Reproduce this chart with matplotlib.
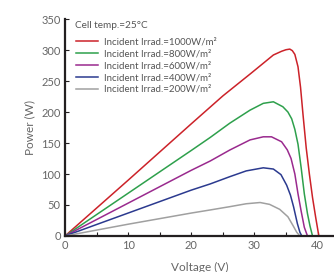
import matplotlib
matplotlib.use("Agg")
import matplotlib.pyplot as plt

plt.rcParams['font.family'] = ['Lato', 'DejaVu Sans']

# values (voltage V, power W)
v_1000 = [0, 10, 20, 25, 29.4, 31.2, 33.0, 34.3, 35.0, 35.6, 36.0, 36.4, 36.9, 37.3, 37.7, 38.2, 38.7, 39.2, 39.7, 40.2]
p_1000 = [0, 90, 181, 226, 262, 277, 292, 298, 300.5, 301.5, 299, 293, 273, 240, 195, 142, 100, 62, 30, 0]

v_800 = [0, 10, 20, 23, 26.1, 29.3, 31.4, 33.0, 34.5, 35.3, 35.9, 36.4, 36.9, 37.4, 37.9, 38.4, 38.8, 39.2]
p_800 = [0, 69, 138, 159, 182, 203, 214, 216.5, 208.5, 200, 189, 172, 148, 110, 68, 36, 16, 0]

v_600 = [0, 10, 20, 23, 26.1, 29.3, 31.4, 32.7, 34.3, 35.2, 35.8, 36.4, 36.9, 37.4, 37.9, 38.4]
p_600 = [0, 53, 106, 121, 138.7, 155, 160, 160, 152, 139, 125, 100, 68, 40, 14, 0]

v_400 = [0, 10, 20, 23, 26.1, 28.7, 31.4, 33.0, 34.2, 35.1, 35.7, 36.2, 36.8, 37.2, 37.5]
p_400 = [0, 37, 74, 84, 95.7, 105, 110, 108, 99, 82, 66, 47, 20, 6, 0]

v_200 = [0, 10, 20, 23, 26.1, 28.7, 30.9, 32.4, 34.0, 35.3, 36.1, 36.7, 37.2]
p_200 = [0, 19, 37, 42, 47.3, 52, 54, 51, 43, 31, 17, 6, 0]

labels = ["Incident Irrad.=1000W/m²", "Incident Irrad.=800W/m²", "Incident Irrad.=600W/m²",
          "Incident Irrad.=400W/m²", "Incident Irrad.=200W/m²"]
colors = ["#cc2229", "#2ea04c", "#9a2a8e", "#2b3a8f", "#a0a0a0"]

fig = plt.figure(figsize=(3.34, 2.72), dpi=100)
ax = fig.add_axes([0.1946, 0.1324, 0.8054, 0.7976])

series = [(v_1000, p_1000), (v_800, p_800), (v_600, p_600), (v_400, p_400), (v_200, p_200)]
for (v, p), lab, c in zip(series, labels, colors):
    ax.plot(v, p, color=c, lw=1.1, label=lab, solid_joinstyle='round')

ax.set_xlim(0, 42.6)
ax.set_ylim(0, 350)
ax.set_xticks([0, 10, 20, 30, 40])
ax.set_xticks([5, 15, 25, 35], minor=True)
ax.set_yticks(range(0, 351, 50))

for s in ['top', 'right']:
    ax.spines[s].set_visible(False)
for s in ['left', 'bottom']:
    ax.spines[s].set_linewidth(1.6)
    ax.spines[s].set_color('#231f20')

ax.tick_params(which='both', direction='in', length=3, width=0.8, color='#231f20',
               labelsize=8, labelcolor='#666666', pad=3)

ax.set_xlabel("Voltage (V)", fontsize=8.5, color='#666666', labelpad=8)
ax.set_ylabel("Power (W)", fontsize=8.5, color='#666666', labelpad=4)

ax.text(0.037, 0.972, "Cell temp.=25°C", transform=ax.transAxes, fontsize=7.2,
        color='#555555', ha='left', va='center')

leg = ax.legend(loc='upper left', bbox_to_anchor=(0.041, 0.916), frameon=False,
                fontsize=7.0, handlelength=2.3, handletextpad=0.55,
                labelspacing=0.3, borderaxespad=0, borderpad=0)
for t in leg.get_texts():
    t.set_color('#555555')

fig.savefig("out.png", dpi=100)
